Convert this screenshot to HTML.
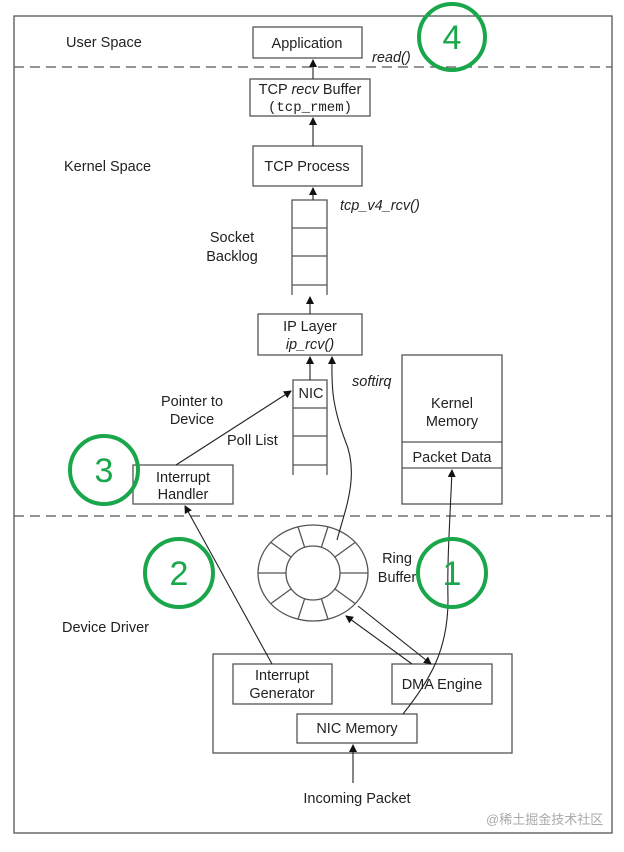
<!DOCTYPE html>
<html><head><meta charset="utf-8"><style>
body{margin:0;background:#fff}
svg text{font-family:"Liberation Sans",sans-serif;font-size:14.5px;fill:#222}
</style></head><body>
<svg width="624" height="847" viewBox="0 0 624 847" xmlns="http://www.w3.org/2000/svg">
<defs><marker id="a" markerWidth="8" markerHeight="10" refX="7" refY="5" orient="auto" markerUnits="userSpaceOnUse"><path d="M0,1 L8,5 L0,9 z" fill="#111"/></marker>
<clipPath id="ec"><ellipse cx="313" cy="573" rx="55" ry="48"/></clipPath></defs>
<g fill="none" stroke="#555" stroke-width="1.3">
<rect x="14" y="16" width="598" height="817"/>
<line x1="14" y1="67" x2="612" y2="67" stroke-dasharray="10,6"/>
<line x1="14" y1="516" x2="612" y2="516" stroke-dasharray="10,6"/>
<rect x="253" y="27" width="109" height="31"/>
<rect x="250" y="79" width="120" height="37"/>
<rect x="253" y="146" width="109" height="40"/>
<path d="M292,295 V200 H327 V295 M292,228 H327 M292,256 H327 M292,285 H327"/>
<rect x="258" y="314" width="104" height="41"/>
<path d="M293,475 V380 H327 V475 M293,408 H327 M293,436 H327 M293,465 H327"/>
<rect x="402" y="355" width="100" height="149"/>
<line x1="402" y1="442" x2="502" y2="442"/><line x1="402" y1="468" x2="502" y2="468"/>
<rect x="133" y="465" width="100" height="39"/>
<rect x="213" y="654" width="299" height="99"/>
<rect x="233" y="664" width="99" height="40"/>
<rect x="392" y="664" width="100" height="40"/>
<rect x="297" y="714" width="120" height="29"/>
<ellipse cx="313" cy="573" rx="55" ry="48"/>
<circle cx="313" cy="573" r="27"/>
<g clip-path="url(#ec)">
<g id="sp"><line x1="340" y1="573" x2="380" y2="573"/></g>
<use href="#sp" transform="rotate(36 313 573)"/>
<use href="#sp" transform="rotate(72 313 573)"/>
<use href="#sp" transform="rotate(108 313 573)"/>
<use href="#sp" transform="rotate(144 313 573)"/>
<use href="#sp" transform="rotate(180 313 573)"/>
<use href="#sp" transform="rotate(216 313 573)"/>
<use href="#sp" transform="rotate(252 313 573)"/>
<use href="#sp" transform="rotate(288 313 573)"/>
<use href="#sp" transform="rotate(324 313 573)"/>
</g>
</g>
<g fill="none" stroke="#222" stroke-width="1.1">
<line x1="313" y1="79" x2="313" y2="60" marker-end="url(#a)"/>
<line x1="313" y1="146" x2="313" y2="118" marker-end="url(#a)"/>
<line x1="313" y1="200" x2="313" y2="188" marker-end="url(#a)"/>
<line x1="310" y1="314" x2="310" y2="297" marker-end="url(#a)"/>
<line x1="310" y1="380" x2="310" y2="357" marker-end="url(#a)"/>
<path d="M337,540 C345,510 360,475 345,440 C330,400 332,380 332,357" marker-end="url(#a)"/>
<line x1="176" y1="465" x2="291" y2="391" marker-end="url(#a)"/>
<line x1="272" y1="664" x2="185" y2="506" marker-end="url(#a)"/>
<line x1="412" y1="664" x2="346" y2="616" marker-end="url(#a)"/>
<line x1="358" y1="606" x2="431" y2="664" marker-end="url(#a)"/>
<path d="M403,714 C430,680 448,650 448,600 C447,560 450,520 452,470" marker-end="url(#a)"/>
<line x1="353" y1="783" x2="353" y2="745" marker-end="url(#a)"/>
</g>
<g text-anchor="middle">
<text x="307" y="48">Application</text>
<text x="310" y="94">TCP <tspan font-style="italic">recv</tspan> Buffer</text>
<text x="310" y="111" style="font-family:'Liberation Mono',monospace;font-size:14px">(tcp_rmem)</text>
<text x="307" y="171">TCP Process</text>
<text x="232" y="242">Socket</text><text x="232" y="261">Backlog</text>
<text x="310" y="331">IP Layer</text>
<text x="310" y="349" font-style="italic">ip_rcv()</text>
<text x="311" y="398">NIC</text>
<text x="192" y="406">Pointer to</text><text x="192" y="424">Device</text>
<text x="452" y="408">Kernel</text><text x="452" y="426">Memory</text>
<text x="452" y="462">Packet Data</text>
<text x="183" y="482">Interrupt</text><text x="183" y="499">Handler</text>
<text x="282" y="680">Interrupt</text><text x="282" y="698">Generator</text>
<text x="442" y="689">DMA Engine</text>
<text x="357" y="733">NIC Memory</text>
<text x="357" y="803">Incoming Packet</text>
<text x="397" y="563">Ring</text><text x="397" y="582">Buffer</text>
</g>
<text x="66" y="47">User Space</text>
<text x="64" y="171">Kernel Space</text>
<text x="62" y="632">Device Driver</text>
<text x="372" y="62" font-style="italic">read()</text>
<text x="340" y="210" font-style="italic">tcp_v4_rcv()</text>
<text x="352" y="386" font-style="italic">softirq</text>
<text x="227" y="445">Poll List</text>
<text x="486" y="824" style="font-family:'Liberation Sans','Noto Sans CJK SC',sans-serif;font-size:13px;fill:#aaa">@稀土掘金技术社区</text>
<g fill="none" stroke="#1aa64a" stroke-width="4">
<circle cx="452" cy="37" r="33"/><circle cx="104" cy="470" r="34"/>
<circle cx="179" cy="573" r="34"/><circle cx="452" cy="573" r="34"/>
</g>
<g text-anchor="middle">
<text x="452" y="49" style="fill:#1aa64a;font-size:34px">4</text>
<text x="104" y="482" style="fill:#1aa64a;font-size:34px">3</text>
<text x="179" y="585" style="fill:#1aa64a;font-size:34px">2</text>
<text x="452" y="585" style="fill:#1aa64a;font-size:34px">1</text>
</g>
</svg>
</body></html>
